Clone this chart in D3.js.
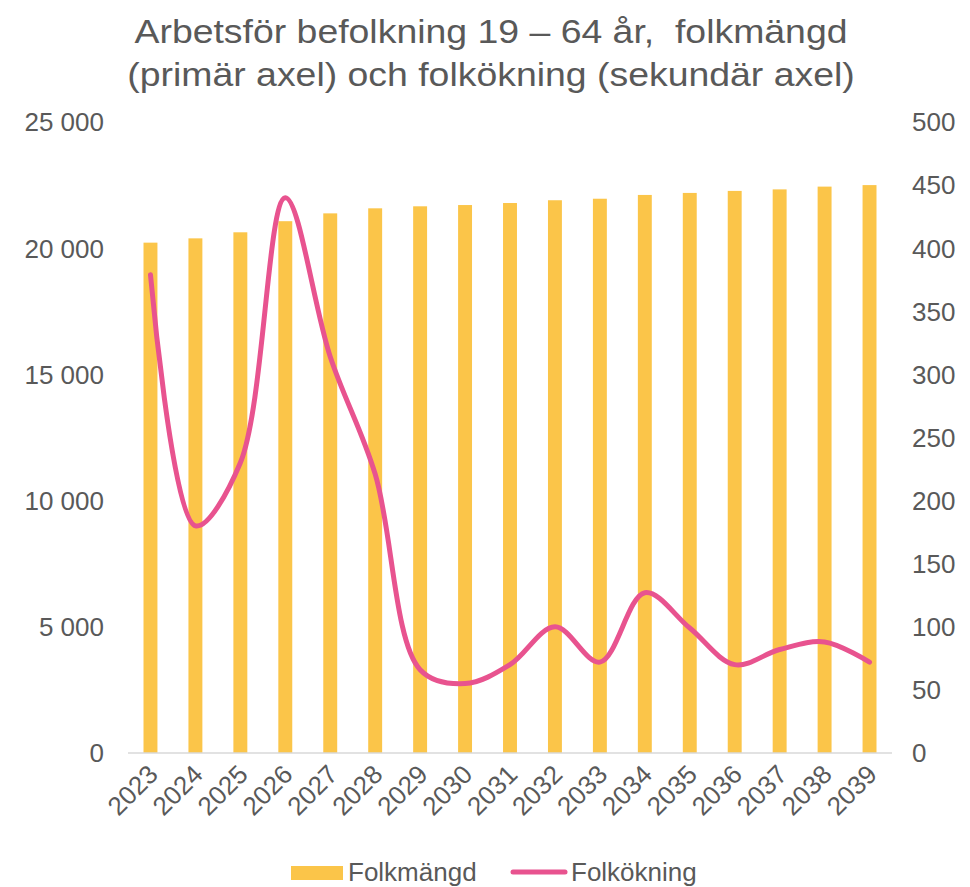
<!DOCTYPE html>
<html>
<head>
<meta charset="utf-8">
<script src="https://cdn.jsdelivr.net/npm/d3@7"></script>
<style>
  body { margin: 0; background: #fff; }
  text { font-family: "Liberation Sans", Arial, sans-serif; fill: #595959; }
  .title { white-space: pre; }
</style>
</head>
<body>
<div id="chart"></div>
<script>
// data
var years = ["2023","2024","2025","2026","2027","2028","2029","2030","2031",
             "2032","2033","2034","2035","2036","2037","2038","2039"];
var folkmangd = [20220, 20390, 20630, 21070, 21380, 21580, 21660, 21710, 21790,
                 21900, 21960, 22110, 22190, 22270, 22330, 22440, 22500];
var folkokning = [379, 180, 230, 440, 314, 221, 66, 55, 70,
                  100, 72, 127, 99, 70, 82, 88, 72];
var leftTicks = [0, 5000, 10000, 15000, 20000, 25000];
var rightTicks = [0, 50, 100, 150, 200, 250, 300, 350, 400, 450, 500];
var titleLines = ["Arbetsför befolkning 19 – 64 år,  folkmängd",
                  "(primär axel) och folkökning (sekundär axel)"];

var w = 970;
var h = 887;
var mLeft = 128, mRight = 892, mTop = 122, mBottom = 753;

var barColor = "#FBC549";
var lineColor = "#E8538F";

var svg = d3.select("#chart")
            .append("svg")
            .attr("width", w)
            .attr("height", h);

var x = d3.scaleBand()
          .domain(years)
          .range([mLeft, mRight])
          .paddingInner(0.69)
          .paddingOuter(0.345);

var yL = d3.scaleLinear().domain([0, 25000]).range([mBottom, mTop]);
var yR = d3.scaleLinear().domain([0, 500]).range([mBottom, mTop]);

var fmt = function(d) {
    return d3.format(",")(d).replace(/,/g, " ");
};

// title
svg.selectAll(".title")
    .data(titleLines)
    .enter()
    .append("text")
    .attr("class", "title")
    .attr("text-anchor", "middle")
    .attr("transform", function(d, i) {
        return "translate(491," + (43 + i * 43) + ") scale(1.1,1)";
    })
    .style("font-size", "34px")
    .text(function(d) { return d; });

// bars
svg.selectAll("rect.bar")
    .data(folkmangd)
    .enter()
    .append("rect")
    .attr("class", "bar")
    .attr("x", function(d, i) { return x(years[i]); })
    .attr("y", function(d) { return yL(d); })
    .attr("width", x.bandwidth())
    .attr("height", function(d) { return mBottom - yL(d); })
    .attr("fill", barColor);

// category axis line
svg.append("line")
    .attr("x1", mLeft).attr("x2", mRight)
    .attr("y1", mBottom).attr("y2", mBottom)
    .attr("stroke", "#D9D9D9")
    .attr("stroke-width", 1.5);

// smoothed line on secondary axis
var line = d3.line()
    .x(function(d, i) { return x(years[i]) + x.bandwidth() / 2; })
    .y(function(d) { return yR(d); })
    .curve(d3.curveCatmullRom.alpha(0.5));

svg.append("path")
    .datum(folkokning)
    .attr("d", line)
    .attr("fill", "none")
    .attr("stroke", lineColor)
    .attr("stroke-width", 5)
    .attr("stroke-linecap", "round")
    .attr("stroke-linejoin", "round");

// left axis labels
svg.selectAll(".ltick")
    .data(leftTicks)
    .enter()
    .append("text")
    .attr("class", "ltick")
    .attr("x", 104)
    .attr("y", function(d) { return yL(d); })
    .attr("dy", "0.36em")
    .attr("text-anchor", "end")
    .style("font-size", "26px")
    .text(fmt);

// right axis labels
svg.selectAll(".rtick")
    .data(rightTicks)
    .enter()
    .append("text")
    .attr("class", "rtick")
    .attr("x", 912)
    .attr("y", function(d) { return yR(d); })
    .attr("dy", "0.36em")
    .attr("text-anchor", "start")
    .style("font-size", "26px")
    .text(function(d) { return d; });

// year labels, rotated
svg.selectAll(".xtick")
    .data(years)
    .enter()
    .append("text")
    .attr("class", "xtick")
    .attr("text-anchor", "end")
    .attr("transform", function(d) {
        var cx = x(d) + x.bandwidth() / 2 + 9;
        return "translate(" + cx + "," + 776 + ") rotate(-45)";
    })
    .style("font-size", "26px")
    .text(function(d) { return d; });

// legend
var lg = svg.append("g");
lg.append("rect")
    .attr("x", 291).attr("y", 866)
    .attr("width", 52).attr("height", 14)
    .attr("fill", barColor);
lg.append("text")
    .attr("x", 348).attr("y", 881)
    .style("font-size", "26px")
    .text("Folkmängd");
lg.append("line")
    .attr("x1", 513).attr("x2", 565)
    .attr("y1", 872).attr("y2", 872)
    .attr("stroke", lineColor)
    .attr("stroke-width", 5)
    .attr("stroke-linecap", "round");
lg.append("text")
    .attr("x", 571).attr("y", 881)
    .style("font-size", "26px")
    .text("Folkökning");
</script>
</body>
</html>
